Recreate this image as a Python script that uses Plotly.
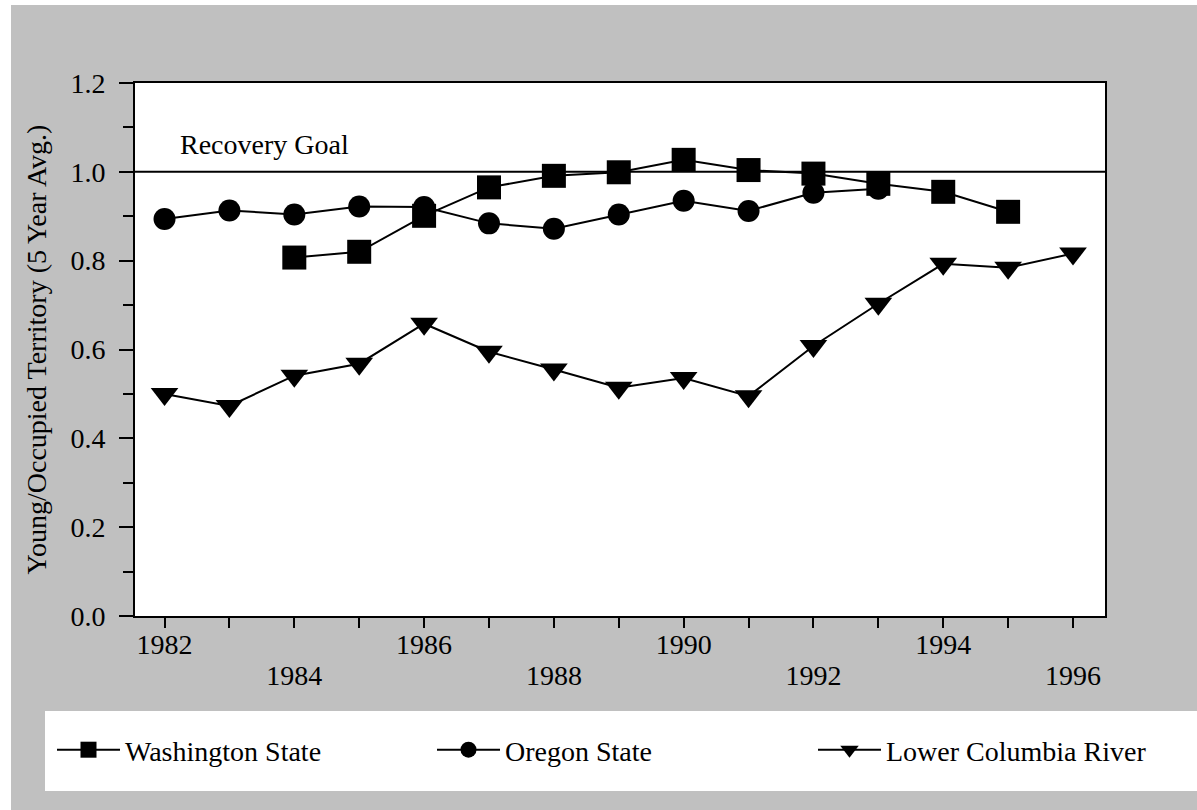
import plotly.graph_objects as go

# ---------------- data ----------------
WA_YEARS = list(range(1984, 1996))
WA_VALUES = [0.807, 0.820, 0.901, 0.965, 0.991, 0.999, 1.027, 1.004, 0.996, 0.973, 0.955, 0.910]

OR_YEARS = list(range(1982, 1994))
OR_VALUES = [0.894, 0.913, 0.904, 0.922, 0.921, 0.884, 0.872, 0.904, 0.935, 0.912, 0.953, 0.962]

LCR_YEARS = list(range(1982, 1997))
LCR_VALUES = [0.500, 0.473, 0.541, 0.568, 0.658, 0.595, 0.555, 0.514, 0.536, 0.495,
              0.608, 0.703, 0.793, 0.784, 0.816]

RECOVERY_GOAL = 1.0
RECOVERY_LABEL = "Recovery Goal"

X_TICKS = list(range(1982, 1997))
X_ROW1_LABELS = {1982: "1982", 1986: "1986", 1990: "1990", 1994: "1994"}
X_ROW2_TICKS = [1984, 1988, 1992, 1996]
X_ROW2_LABELS = ["1984", "1988", "1992", "1996"]
Y_TICKS = [0.0, 0.2, 0.4, 0.6, 0.8, 1.0, 1.2]
Y_TICK_LABELS = ["0.0", "0.2", "0.4", "0.6", "0.8", "1.0", "1.2"]
Y_TITLE = "Young/Occupied Territory (5 Year Avg.)"

# ---------------- layout geometry ----------------
W, H = 1197, 810
ML, MR, MT, MB = 135, 92, 83, 194
PW, PH = W - ML - MR, H - MT - MB
GRAY = "#c0c0c0"
FONT = "Liberation Serif, Times New Roman, serif"
FS = 28


def fx(p):
    return (p - ML) / PW


def fy(p):
    return (H - MB - p) / PH


fig = go.Figure()

line_style = dict(color="black", width=2)
fig.add_trace(go.Scatter(x=OR_YEARS, y=OR_VALUES, mode="lines+markers", name="Oregon State",
                         legend="legend2", line=line_style,
                         marker=dict(symbol="circle", size=22, color="black")))
fig.add_trace(go.Scatter(x=WA_YEARS, y=WA_VALUES, mode="lines+markers", name="Washington State",
                         legend="legend", line=line_style,
                         marker=dict(symbol="square", size=24, color="black")))
fig.add_trace(go.Scatter(x=LCR_YEARS, y=LCR_VALUES, mode="lines+markers", name="Lower Columbia River",
                         legend="legend3", xaxis="x2", line=line_style,
                         marker=dict(symbol="triangle-down", size=24, color="black")))

shapes = [
    # white page strips around the gray panel
    dict(type="rect", xref="paper", yref="paper", x0=fx(0), x1=fx(11), y0=fy(H), y1=fy(0),
         fillcolor="white", line_width=0, layer="below"),
    dict(type="rect", xref="paper", yref="paper", x0=fx(0), x1=fx(W), y0=fy(5), y1=fy(0),
         fillcolor="white", line_width=0, layer="below"),
    # legend box
    dict(type="rect", xref="paper", yref="paper", x0=fx(45), x1=fx(W), y0=fy(791), y1=fy(711),
         fillcolor="white", line_width=0, layer="below"),
    # recovery goal line
    dict(type="line", xref="paper", yref="y", x0=0, x1=1, y0=RECOVERY_GOAL, y1=RECOVERY_GOAL,
         line=dict(color="black", width=2), layer="below"),
]

fig.add_annotation(x=X_TICKS[0] + 0.2, y=RECOVERY_GOAL, xref="x", yref="y",
                   text=RECOVERY_LABEL, showarrow=False, xanchor="left", yanchor="bottom",
                   yshift=10, font=dict(family=FONT, size=FS, color="black"))


def legend_at(px_left):
    return dict(orientation="h", x=fx(px_left), y=fy(750), xanchor="left", yanchor="middle",
                bgcolor="rgba(0,0,0,0)", itemwidth=63,
                font=dict(family=FONT, size=FS, color="black"))


xr = [1981.545, 1996.493]
axis_font = dict(family=FONT, size=FS, color="black")
fig.update_layout(
    width=W, height=H,
    margin=dict(l=ML, r=MR, t=MT, b=MB, pad=0),
    paper_bgcolor=GRAY, plot_bgcolor="white",
    font=dict(family=FONT, size=FS, color="black"),
    shapes=shapes,
    showlegend=True,
    legend=legend_at(52),
    legend2=legend_at(432),
    legend3=legend_at(813),
    xaxis=dict(range=xr, tickmode="array", tickvals=X_TICKS,
               ticktext=[X_ROW1_LABELS.get(v, "") for v in X_TICKS],
               ticks="outside", ticklen=10, tickwidth=2, tickcolor="black",
               ticklabelstandoff=-8,
               showline=True, linewidth=2, linecolor="black", mirror=True,
               showgrid=False, zeroline=False, tickfont=axis_font),
    xaxis2=dict(range=xr, overlaying="x", anchor="y", side="bottom", matches="x",
                tickmode="array", tickvals=X_ROW2_TICKS, ticktext=X_ROW2_LABELS,
                ticks="outside", ticklen=10, tickwidth=2, tickcolor="rgba(0,0,0,0)",
                ticklabelstandoff=24, showline=False, showgrid=False, zeroline=False,
                tickfont=axis_font),
    yaxis=dict(range=[0, 1.2], tickmode="array", tickvals=Y_TICKS, ticktext=Y_TICK_LABELS,
               ticks="outside", ticklen=14, tickwidth=2, tickcolor="black",
               ticklabelstandoff=8,
               minor=dict(dtick=0.1, ticks="outside", ticklen=10, tickwidth=2, tickcolor="black",
                          showgrid=False),
               showline=True, linewidth=2, linecolor="black", mirror=True,
               showgrid=False, zeroline=False, tickfont=axis_font,
               title=dict(text=Y_TITLE, standoff=16, font=axis_font)),
)

fig.write_html("out.html", config={"displayModeBar": False},
               post_script="document.body.style.margin='0';")
